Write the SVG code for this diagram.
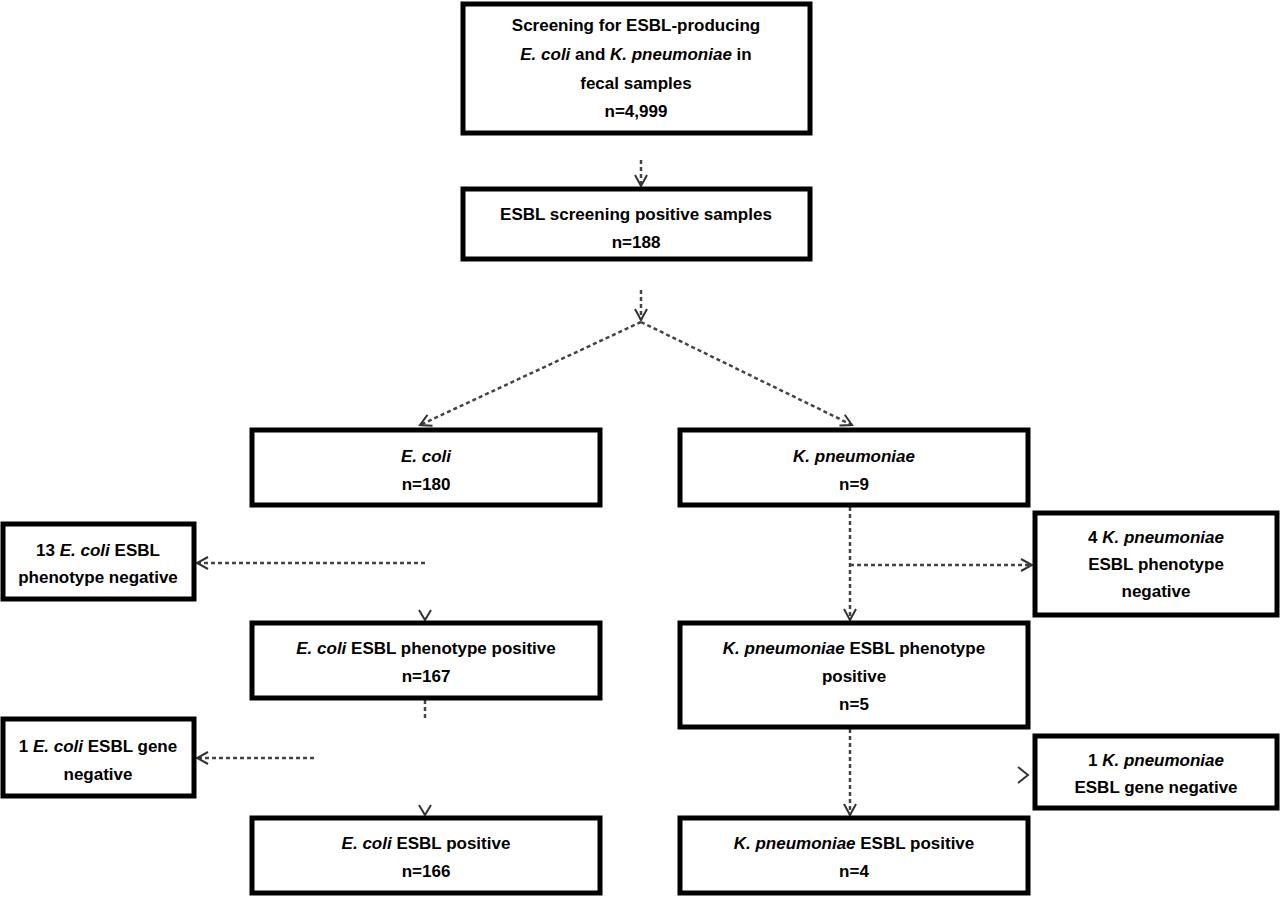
<svg xmlns="http://www.w3.org/2000/svg" width="1280" height="898" viewBox="0 0 1280 898">
<style>
.b{fill:#fff;stroke:#000;stroke-width:5}
.t{font-family:"Liberation Sans",Arial,sans-serif;font-size:17px;font-weight:bold;text-anchor:middle;fill:#000}
.c{fill:none;stroke:#444;stroke-width:2.5;stroke-dasharray:4 3}
.h{fill:none;stroke:#333;stroke-width:2}
</style>
<defs><marker id="a" markerWidth="14" markerHeight="14" refX="12" refY="7" orient="auto" markerUnits="userSpaceOnUse"><path d="M1,1 L12,7 L1,13" fill="none" stroke="#333" stroke-width="2"/></marker></defs>
<rect width="1280" height="898" fill="#fff"/>
<g id="connectors">
<path class="c" d="M641,160 V186" marker-end="url(#a)"/>
<path class="c" d="M641,290 V320" marker-end="url(#a)"/>
<path class="c" d="M641,322 L420,425" marker-end="url(#a)"/>
<path class="c" d="M641,322 L852,425" marker-end="url(#a)"/>
<path class="c" d="M425,563 H197" marker-end="url(#a)"/>
<path class="h" d="M419,610 L425,620 L431,610"/>
<path class="c" d="M425,700 V718"/>
<path class="c" d="M314,758 H197" marker-end="url(#a)"/>
<path class="h" d="M419,805 L425,815 L431,805"/>
<path class="c" d="M850,507 V620" marker-end="url(#a)"/>
<path class="c" d="M850,565 H1032" marker-end="url(#a)"/>
<path class="c" d="M850,729 V815" marker-end="url(#a)"/>
<path class="h" d="M1018,767 L1028,775 L1018,783"/>
</g>
<g id="n1"><rect class="b" x="463" y="4" width="347" height="129"/>
<text class="t" x="636" y="31">Screening  for ESBL-producing</text>
<text class="t" x="636" y="60"><tspan font-style="italic">E. coli</tspan> and <tspan font-style="italic">K. pneumoniae</tspan> in</text>
<text class="t" x="636" y="89">fecal samples</text>
<text class="t" x="636" y="117">n=4,999</text></g>
<g id="n2"><rect class="b" x="463" y="189" width="347" height="70"/>
<text class="t" x="636" y="220">ESBL screening positive samples</text>
<text class="t" x="636" y="248">n=188</text></g>
<g id="n3"><rect class="b" x="252" y="430" width="348" height="75"/>
<text class="t" x="426" y="462" font-style="italic">E. coli</text>
<text class="t" x="426" y="490">n=180</text></g>
<g id="n4"><rect class="b" x="680" y="430" width="348" height="75"/>
<text class="t" x="854" y="462" font-style="italic">K. pneumoniae</text>
<text class="t" x="854" y="490">n=9</text></g>
<g id="n5"><rect class="b" x="3" y="524" width="191" height="75"/>
<text class="t" x="98" y="556">13 <tspan font-style="italic">E. coli</tspan> ESBL</text>
<text class="t" x="98" y="583">phenotype negative</text></g>
<g id="n6"><rect class="b" x="252" y="623" width="348" height="75"/>
<text class="t" x="426" y="654"><tspan font-style="italic">E. coli</tspan> ESBL phenotype positive</text>
<text class="t" x="426" y="682">n=167</text></g>
<g id="n7"><rect class="b" x="3" y="719" width="191" height="77"/>
<text class="t" x="98" y="752">1 <tspan font-style="italic">E. coli</tspan> ESBL gene</text>
<text class="t" x="98" y="780">negative</text></g>
<g id="n8"><rect class="b" x="252" y="818" width="348" height="75"/>
<text class="t" x="426" y="849"><tspan font-style="italic">E. coli</tspan> ESBL positive</text>
<text class="t" x="426" y="877">n=166</text></g>
<g id="n9"><rect class="b" x="1035" y="513" width="242" height="102" stroke-width="3"/>
<text class="t" x="1156" y="543">4 <tspan font-style="italic">K. pneumoniae</tspan></text>
<text class="t" x="1156" y="570">ESBL phenotype</text>
<text class="t" x="1156" y="597">negative</text></g>
<g id="n10"><rect class="b" x="680" y="623" width="348" height="104"/>
<text class="t" x="854" y="654"><tspan font-style="italic">K. pneumoniae</tspan> ESBL phenotype</text>
<text class="t" x="854" y="682">positive</text>
<text class="t" x="854" y="710">n=5</text></g>
<g id="n11"><rect class="b" x="1035" y="736" width="242" height="72" stroke-width="3"/>
<text class="t" x="1156" y="766">1 <tspan font-style="italic">K. pneumoniae</tspan></text>
<text class="t" x="1156" y="793">ESBL gene negative</text></g>
<g id="n12"><rect class="b" x="680" y="818" width="348" height="75"/>
<text class="t" x="854" y="849"><tspan font-style="italic">K. pneumoniae</tspan> ESBL positive</text>
<text class="t" x="854" y="877">n=4</text></g>
</svg>
